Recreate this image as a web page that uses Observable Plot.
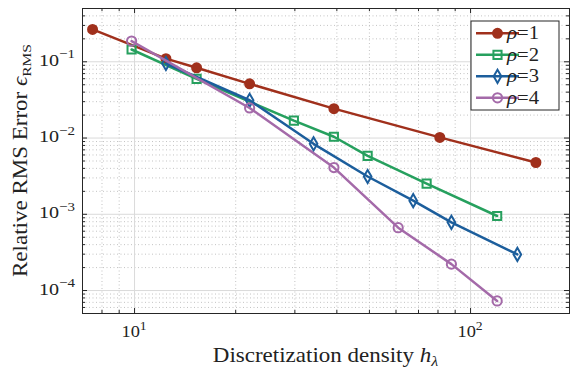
<!DOCTYPE html>
<html><head><meta charset="utf-8">
<script src="https://cdn.jsdelivr.net/npm/d3@7"></script>
<script src="https://cdn.jsdelivr.net/npm/@observablehq/plot@0.6"></script>
<style>body{margin:0;background:#fff}</style>
</head><body><div id="chart"></div>
<script>
// ---- data ----
const seriesNames = ["1", "2", "3", "4"];
const seriesColors = ["#a0301c", "#26a05e", "#1c5e9c", "#a46aa9"];
const seriesSymbols = ["circle", "square", "diamond", "circle"];
const seriesFilled = [true, false, false, false];
const rho1X = [7.5, 12.4, 15.3, 22, 39.2, 81, 156.5];
const rho1Y = [0.266, 0.110, 0.0834, 0.0514, 0.0243, 0.0102, 0.00478];
const rho2X = [9.8, 15.3, 29.8, 39.2, 49.4, 74, 120];
const rho2Y = [0.145, 0.0597, 0.0169, 0.0104, 0.00585, 0.00253, 0.00095];
const rho3X = [12.4, 22, 34.1, 49.4, 67.5, 87.7, 137.8];
const rho3Y = [0.095, 0.0313, 0.0084, 0.00313, 0.00151, 0.000785, 0.000298];
const rho4X = [9.8, 22, 39.2, 60.9, 87.7, 120];
const rho4Y = [0.187, 0.0248, 0.0041, 0.000667, 0.000222, 0.000073];
const xMajor = [10, 100];
const xMajorExp = ["1", "2"];
const xMinor = [8, 9, 20, 30, 40, 50, 60, 70, 80, 90];
const yMajor = [1e-4, 1e-3, 1e-2, 1e-1];
const yMajorExp = ["−4", "−3", "−2", "−1"];
const yMinor = [6e-5, 7e-5, 8e-5, 9e-5,
  2e-4, 3e-4, 4e-4, 5e-4, 6e-4, 7e-4, 8e-4, 9e-4,
  2e-3, 3e-3, 4e-3, 5e-3, 6e-3, 7e-3, 8e-3, 9e-3,
  2e-2, 3e-2, 4e-2, 5e-2, 6e-2, 7e-2, 8e-2, 9e-2,
  2e-1, 3e-1, 4e-1];

const xs = [rho1X, rho2X, rho3X, rho4X], ys = [rho1Y, rho2Y, rho3Y, rho4Y];
const data = [];
xs.forEach((arr, i) => arr.forEach((x, j) => data.push({s: i, x, y: ys[i][j]})));

// ---- layout ----
const W = 570, H = 369, mL = 82, mR = 1, mT = 8, mB = 56;
const innerW = W - mL - mR, innerH = H - mT - mB;
const font = "'Liberation Serif', 'DejaVu Serif', serif";
const dark = "#262626";
const stretch = 1.15;

const marks = [
  Plot.ruleX(xMinor, {x: d => d, stroke: "#b4b4b4", strokeWidth: 0.8, strokeDasharray: "1,2.5"}),
  Plot.ruleY(yMinor, {y: d => d, stroke: "#b4b4b4", strokeWidth: 0.8, strokeDasharray: "1,2.5"}),
  Plot.ruleX(xMajor, {x: d => d, stroke: "#dadada", strokeWidth: 1}),
  Plot.ruleY(yMajor, {y: d => d, stroke: "#dadada", strokeWidth: 1}),
  // inward ticks on all four sides
  Plot.tickX(xMajor, {x: d => d, insetTop: innerH - 5, stroke: dark}),
  Plot.tickX(xMajor, {x: d => d, insetBottom: innerH - 5, stroke: dark}),
  Plot.tickX(xMinor, {x: d => d, insetTop: innerH - 3, stroke: dark}),
  Plot.tickX(xMinor, {x: d => d, insetBottom: innerH - 3, stroke: dark}),
  Plot.tickY(yMajor, {y: d => d, insetRight: innerW - 5, stroke: dark}),
  Plot.tickY(yMajor, {y: d => d, insetLeft: innerW - 5, stroke: dark}),
  Plot.tickY(yMinor, {y: d => d, insetRight: innerW - 3, stroke: dark}),
  Plot.tickY(yMinor, {y: d => d, insetLeft: innerW - 3, stroke: dark}),
];
const radius = [4.5, 4.6, 4, 4.6];
seriesNames.forEach((name, i) => {
  const d = data.filter(r => r.s === i);
  marks.push(Plot.line(d, {x: "x", y: "y", stroke: seriesColors[i], strokeWidth: 2.5}));
  marks.push(Plot.dot(d, {x: "x", y: "y", symbol: seriesSymbols[i], r: radius[i],
    stroke: seriesColors[i], strokeWidth: 2, fill: seriesFilled[i] ? seriesColors[i] : "none"}));
});
marks.push(Plot.frame({stroke: dark, strokeWidth: 1}));

const plot = Plot.plot({
  width: W, height: H,
  marginLeft: mL, marginRight: mR, marginTop: mT, marginBottom: mB,
  x: {type: "log", domain: [7, 197], axis: null},
  y: {type: "log", domain: [5e-5, 0.5], axis: null},
  style: {fontFamily: font, background: "#fff"},
  marks
});
document.getElementById("chart").appendChild(plot);

const svg = d3.select(plot);
const sx = plot.scale("x"), sy = plot.scale("y");
const g = svg.append("g").attr("font-family", font).attr("fill", "#222");

// x tick labels
xMajor.forEach((v, i) => {
  const t = g.append("text").attr("transform", `translate(${sx.apply(v)},337) scale(1.05,1)`)
    .attr("text-anchor", "middle").attr("font-size", 17.5);
  t.append("tspan").text("10");
  t.append("tspan").attr("font-size", 13).attr("dy", -7.5).text(xMajorExp[i]);
});
// y tick labels
yMajor.forEach((v, i) => {
  const t = g.append("text").attr("transform", `translate(75,${sy.apply(v) + 4.5}) scale(${stretch},1)`)
    .attr("text-anchor", "end").attr("font-size", 17.5);
  t.append("tspan").text("10");
  t.append("tspan").attr("font-size", 13).attr("dy", -7.5).text(yMajorExp[i]);
});
// axis labels
const xl = g.append("text").attr("transform", `translate(${mL + innerW / 2},362) scale(${stretch},1)`)
  .attr("text-anchor", "middle").attr("font-size", 20);
xl.append("tspan").text("Discretization density ");
xl.append("tspan").attr("font-style", "italic").text("h");
xl.append("tspan").attr("font-size", 14).attr("dy", 4).attr("font-style", "italic").text("λ");

const yl = g.append("text").attr("transform", `translate(27,${mT + innerH / 2}) rotate(-90) scale(${stretch},1)`)
  .attr("text-anchor", "middle").attr("font-size", 20);
yl.append("tspan").text("Relative RMS Error ");
yl.append("tspan").attr("font-style", "italic").text("ϵ");
yl.append("tspan").attr("font-size", 13.5).attr("dy", 4).text("RMS");

// legend
const lg = svg.append("g").attr("font-family", font);
lg.append("rect").attr("x", 471).attr("y", 21).attr("width", 88).attr("height", 89)
  .attr("fill", "#fff").attr("stroke", dark).attr("stroke-width", 1);
seriesNames.forEach((name, i) => {
  const yy = 33.3 + i * 21.5;
  lg.append("line").attr("x1", 476).attr("x2", 519).attr("y1", yy).attr("y2", yy)
    .attr("stroke", seriesColors[i]).attr("stroke-width", 2.5);
  const sym = {circle: d3.symbolCircle, square: d3.symbolSquare, diamond: d3.symbolDiamond}[seriesSymbols[i]];
  lg.append("path").attr("d", d3.symbol(sym, Math.PI * radius[i] * radius[i])()).attr("transform", `translate(497.5,${yy})`)
    .attr("stroke", seriesColors[i]).attr("stroke-width", 2).attr("fill", seriesFilled[i] ? seriesColors[i] : "none");
  const t = lg.append("text").attr("transform", `translate(523,${yy + 6}) scale(1.12,1)`)
    .attr("font-size", 18.5).attr("fill", "#222");
  t.append("tspan").attr("font-style", "italic").text("ρ");
  t.append("tspan").text("=" + name);
});
</script>
</body></html>
